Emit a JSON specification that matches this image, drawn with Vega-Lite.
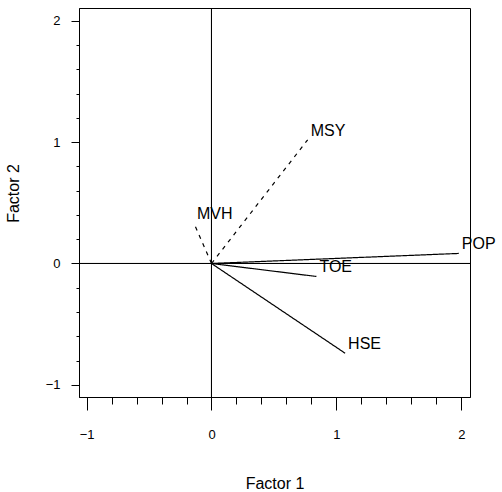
{
  "$schema": "https://vega.github.io/schema/vega-lite/v6.json",
  "width": 391,
  "height": 389,
  "autosize": "none",
  "padding": {"left": 79, "top": 8, "right": 32, "bottom": 95},
  "background": "white",
  "config": {
    "view": {"stroke": "black", "strokeWidth": 1},
    "font": "Liberation Sans"
  },
  "data": {
    "values": [
      {"var": "POP", "f1": 1.98, "f2": 0.083, "kind": "solid"},
      {"var": "TOE", "f1": 0.84, "f2": -0.107, "kind": "solid"},
      {"var": "HSE", "f1": 1.07, "f2": -0.74, "kind": "solid"},
      {"var": "MSY", "f1": 0.77, "f2": 1.02, "kind": "dashed"},
      {"var": "MVH", "f1": -0.14, "f2": 0.33, "kind": "dashed"}
    ]
  },
  "encoding": {
    "x": {
      "field": "f1",
      "type": "quantitative",
      "title": "Factor 1",
      "scale": {"domain": [-1.061, 2.07], "nice": false, "zero": false},
      "axis": {
        "values": [-1, -0.8, -0.6, -0.4, -0.2, 0, 0.2, 0.4, 0.6, 0.8, 1, 1.2, 1.4, 1.6, 1.8, 2],
        "labelExpr": "abs(datum.value - round(datum.value)) < 0.01 ? format(datum.value, 'd') : ''",
        "grid": false,
        "domainColor": "black",
        "tickColor": "black",
        "tickSize": {"condition": {"test": "abs(datum.value - round(datum.value)) < 0.01", "value": 13}, "value": 7},
        "labelPadding": 18,
        "labelFontSize": 13,
        "labelColor": "black",
        "labelFont": "Liberation Sans",
        "titleFont": "Liberation Sans",
        "titleFontSize": 16,
        "titleFontWeight": "normal",
        "titleColor": "black",
        "titleBaseline": "alphabetic",
        "titleY": 91,
        "titleX": 195.5
      }
    },
    "y": {
      "field": "f2",
      "type": "quantitative",
      "title": "Factor 2",
      "scale": {"domain": [-1.101, 2.107], "nice": false, "zero": false},
      "axis": {
        "values": [-1, -0.8, -0.6, -0.4, -0.2, 0, 0.2, 0.4, 0.6, 0.8, 1, 1.2, 1.4, 1.6, 1.8, 2],
        "labelExpr": "abs(datum.value - round(datum.value)) < 0.01 ? format(datum.value, 'd') : ''",
        "grid": false,
        "domainColor": "black",
        "tickColor": "black",
        "tickSize": {"condition": {"test": "abs(datum.value - round(datum.value)) < 0.01", "value": 8}, "value": 3},
        "labelPadding": 11,
        "labelFontSize": 13,
        "labelColor": "black",
        "labelFont": "Liberation Sans",
        "titleFont": "Liberation Sans",
        "titleFontSize": 16,
        "titleFontWeight": "normal",
        "titleColor": "black",
        "titleAngle": -90,
        "titleBaseline": "bottom",
        "titleX": -58,
        "titleY": 185
      }
    }
  },
  "layer": [
    {
      "mark": {"type": "rule", "color": "black", "strokeWidth": 1},
      "encoding": {"x": {"datum": 0}, "y": null}
    },
    {
      "mark": {"type": "rule", "color": "black", "strokeWidth": 1},
      "encoding": {"y": {"datum": 0}, "x": null}
    },
    {
      "mark": {"type": "rule", "color": "black", "strokeWidth": 1.2},
      "encoding": {
        "x": {"datum": 0},
        "y": {"datum": 0},
        "x2": {"field": "f1"},
        "y2": {"field": "f2"},
        "strokeDash": {
          "field": "kind",
          "type": "nominal",
          "scale": {"domain": ["solid", "dashed"], "range": [[1, 0], [4, 5]]},
          "legend": null
        }
      }
    },
    {
      "mark": {"type": "text", "align": "left", "baseline": "middle", "dx": 3, "dy": -9, "fontSize": 16, "font": "Liberation Sans", "color": "black"},
      "encoding": {
        "text": {"field": "var"}
      }
    }
  ]
}
